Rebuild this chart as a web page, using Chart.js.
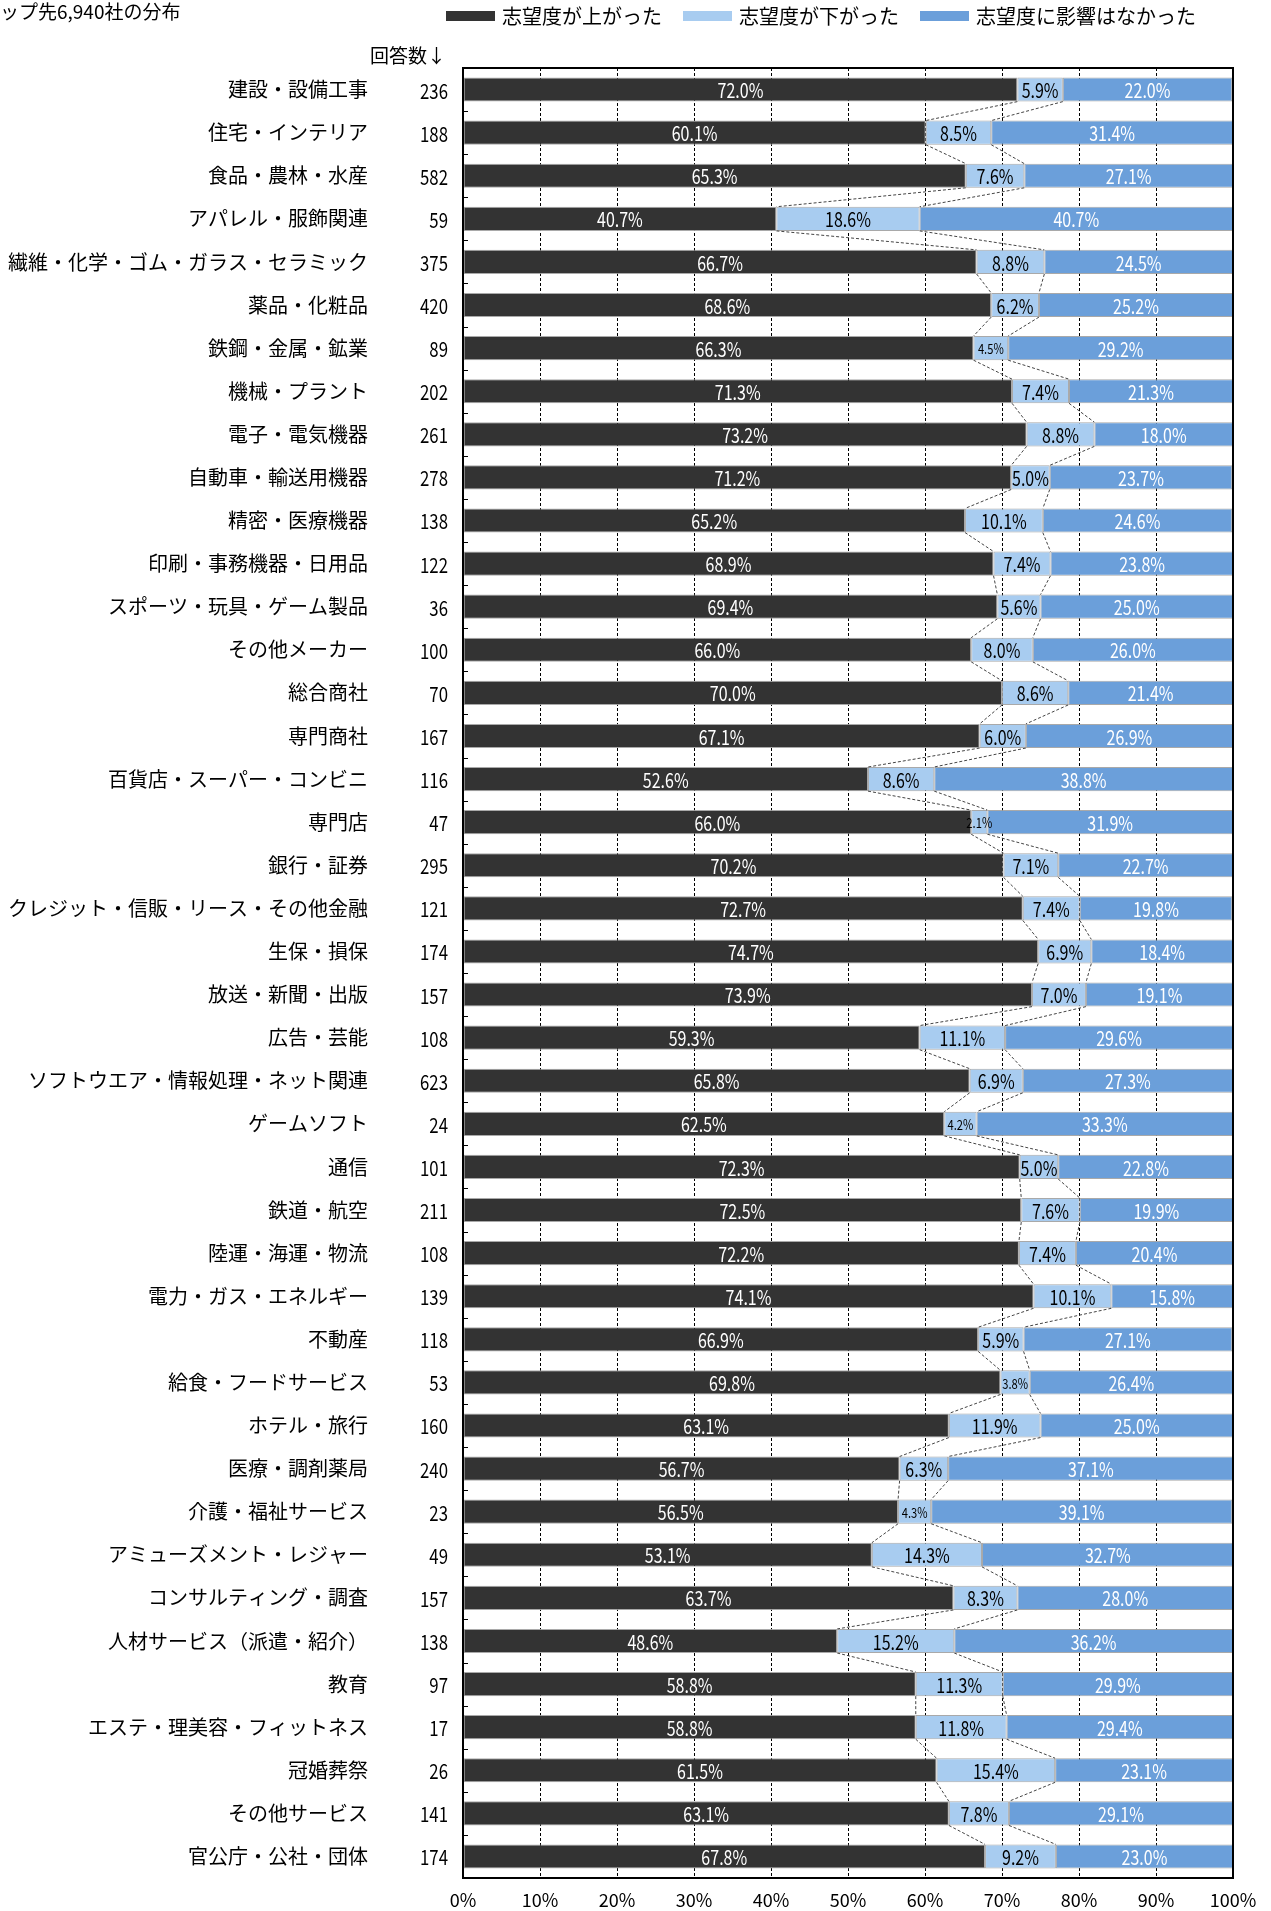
<!DOCTYPE html>
<html>
<head>
<meta charset="utf-8">
<script src="https://cdn.jsdelivr.net/npm/chart.js@4.4.1/dist/chart.umd.min.js"></script>
<style>
  body { margin: 0; background: #fff; }
  #wrap { position: relative; width: 1271px; height: 1911px; }
</style>
</head>
<body>
<div id="wrap"><canvas id="chart" width="1271" height="1911"></canvas></div>
<script>
const categories = [
  "建設・設備工事", "住宅・インテリア", "食品・農林・水産", "アパレル・服飾関連",
  "繊維・化学・ゴム・ガラス・セラミック", "薬品・化粧品", "鉄鋼・金属・鉱業", "機械・プラント",
  "電子・電気機器", "自動車・輸送用機器", "精密・医療機器", "印刷・事務機器・日用品",
  "スポーツ・玩具・ゲーム製品", "その他メーカー", "総合商社", "専門商社",
  "百貨店・スーパー・コンビニ", "専門店", "銀行・証券", "クレジット・信販・リース・その他金融",
  "生保・損保", "放送・新聞・出版", "広告・芸能", "ソフトウエア・情報処理・ネット関連",
  "ゲームソフト", "通信", "鉄道・航空", "陸運・海運・物流",
  "電力・ガス・エネルギー", "不動産", "給食・フードサービス", "ホテル・旅行",
  "医療・調剤薬局", "介護・福祉サービス", "アミューズメント・レジャー", "コンサルティング・調査",
  "人材サービス（派遣・紹介）", "教育", "エステ・理美容・フィットネス", "冠婚葬祭",
  "その他サービス", "官公庁・公社・団体"
];
const counts = [236, 188, 582, 59, 375, 420, 89, 202, 261, 278, 138, 122, 36, 100, 70, 167,
  116, 47, 295, 121, 174, 157, 108, 623, 24, 101, 211, 108, 139, 118, 53, 160,
  240, 23, 49, 157, 138, 97, 17, 26, 141, 174];
const raised = [72.0, 60.1, 65.3, 40.7, 66.7, 68.6, 66.3, 71.3, 73.2, 71.2, 65.2, 68.9, 69.4, 66.0, 70.0, 67.1,
  52.6, 66.0, 70.2, 72.7, 74.7, 73.9, 59.3, 65.8, 62.5, 72.3, 72.5, 72.2, 74.1, 66.9, 69.8, 63.1,
  56.7, 56.5, 53.1, 63.7, 48.6, 58.8, 58.8, 61.5, 63.1, 67.8];
const lowered = [5.9, 8.5, 7.6, 18.6, 8.8, 6.2, 4.5, 7.4, 8.8, 5.0, 10.1, 7.4, 5.6, 8.0, 8.6, 6.0,
  8.6, 2.1, 7.1, 7.4, 6.9, 7.0, 11.1, 6.9, 4.2, 5.0, 7.6, 7.4, 10.1, 5.9, 3.8, 11.9,
  6.3, 4.3, 14.3, 8.3, 15.2, 11.3, 11.8, 15.4, 7.8, 9.2];
const noEffect = [22.0, 31.4, 27.1, 40.7, 24.5, 25.2, 29.2, 21.3, 18.0, 23.7, 24.6, 23.8, 25.0, 26.0, 21.4, 26.9,
  38.8, 31.9, 22.7, 19.8, 18.4, 19.1, 29.6, 27.3, 33.3, 22.8, 19.9, 20.4, 15.8, 27.1, 26.4, 25.0,
  37.1, 39.1, 32.7, 28.0, 36.2, 29.9, 29.4, 23.1, 29.1, 23.0];
const seriesNames = ["志望度が上がった", "志望度が下がった", "志望度に影響はなかった"];
const seriesColors = ["#333333", "#a8ccf0", "#6b9fda"];
const labelColors = ["#ffffff", "#000000", "#ffffff"];
const titleText = "ップ先6,940社の分布";
const countHeader = "回答数↓";

const JP = "'Noto Sans CJK JP', sans-serif";
const NUM = "'Noto Sans CJK JP', sans-serif";

// narrow-looking numbers: draw squeezed horizontally
function squeezed(ctx, text, x, y, size, align) {
  ctx.save();
  ctx.font = size + 'px ' + NUM;
  ctx.textAlign = align;
  ctx.translate(x, y);
  ctx.scale(0.8, 1);
  ctx.fillText(text, 0, 0);
  ctx.restore();
}

// legend, title, counts, series lines, value labels
const extras = {
  id: 'extras',
  afterDatasetsDraw(chart) {
    const ctx = chart.ctx;
    const area = chart.chartArea;
    const yScale = chart.scales.y;
    const m0 = chart.getDatasetMeta(0).data;
    const m1 = chart.getDatasetMeta(1).data;
    ctx.save();

    // series lines between bars
    ctx.strokeStyle = '#444';
    ctx.lineWidth = 1;
    ctx.setLineDash([3, 2]);
    for (let i = 0; i < categories.length - 1; i++) {
      [m0, m1].forEach(m => {
        const a = m[i], b = m[i + 1];
        ctx.beginPath();
        ctx.moveTo(a.x, a.y + a.height / 2);
        ctx.lineTo(b.x, b.y - b.height / 2);
        ctx.stroke();
      });
    }
    ctx.setLineDash([]);

    // value labels
    ctx.textBaseline = 'middle';
    chart.data.datasets.forEach((ds, di) => {
      chart.getDatasetMeta(di).data.forEach((el, i) => {
        const v = ds.data[i];
        ctx.fillStyle = labelColors[di];
        squeezed(ctx, v.toFixed(1) + '%', (el.x + el.base) / 2, el.y + 1, v < 5 ? 14 : 20, 'center');
      });
    });

    // inside ticks on the left axis
    ctx.strokeStyle = '#000';
    for (let i = 0; i <= categories.length; i++) {
      const y = Math.round(yScale.getPixelForValue(i - 0.5)) + 0.5;
      ctx.beginPath();
      ctx.moveTo(area.left, y);
      ctx.lineTo(area.left + 5, y);
      ctx.stroke();
    }

    // frame
    ctx.lineWidth = 2;
    ctx.strokeRect(area.left, area.top, area.right - area.left, area.bottom - area.top);

    // counts column
    ctx.fillStyle = '#000';
    counts.forEach((c, i) => {
      squeezed(ctx, String(c), 448, yScale.getPixelForValue(i) + 1, 21, 'right');
    });
    ctx.textAlign = 'right';
    ctx.font = '19px ' + JP;
    ctx.fillText(countHeader, 446, 56);

    // title (clipped at the left edge)
    ctx.textAlign = 'left';
    ctx.font = '19px ' + JP;
    ctx.fillText(titleText, 0, 12);

    // legend
    ctx.font = '20px ' + JP;
    let x = 446;
    seriesNames.forEach((name, i) => {
      ctx.fillStyle = seriesColors[i];
      ctx.fillRect(x, 11, 49, 10);
      x += 56;
      ctx.fillStyle = '#000';
      ctx.fillText(name, x, 16);
      x += ctx.measureText(name).width + 21;
    });
    ctx.restore();
  }
};

const datasets = [raised, lowered, noEffect].map((d, i) => ({
  label: seriesNames[i],
  data: d,
  backgroundColor: seriesColors[i],
  borderColor: 'rgba(160,160,160,0.9)',
  borderWidth: 1,
  borderSkipped: false,
  categoryPercentage: 1,
  barPercentage: 0.56
}));

new Chart(document.getElementById('chart'), {
  type: 'bar',
  data: { labels: categories, datasets },
  options: {
    indexAxis: 'y',
    responsive: false,
    animation: false,
    layout: { padding: { left: 0, top: 68, right: 38, bottom: 0 } },
    plugins: { legend: { display: false }, tooltip: { enabled: false } },
    scales: {
      x: {
        stacked: true,
        min: 0, max: 100,
        afterFit: s => { s.height = 33; },
        ticks: {
          stepSize: 10,
          padding: 11,
          color: '#000',
          font: { size: 18, family: NUM },
          callback: v => v + '%'
        },
        grid: { color: '#000', lineWidth: 1, drawTicks: false },
        border: { color: '#000', width: 2, dash: [3, 2] }
      },
      y: {
        stacked: true,
        // keep the tick padding from pushing the plot down
        afterFit: s => { s.width = 463; s.paddingTop = 0; s.paddingBottom = 0; },
        ticks: {
          padding: 95,
          color: '#000',
          font: { size: 20, family: JP },
          autoSkip: false
        },
        grid: { display: false, drawTicks: false },
        border: { color: '#000', width: 2 }
      }
    }
  },
  plugins: [extras]
});
</script>
</body>
</html>
